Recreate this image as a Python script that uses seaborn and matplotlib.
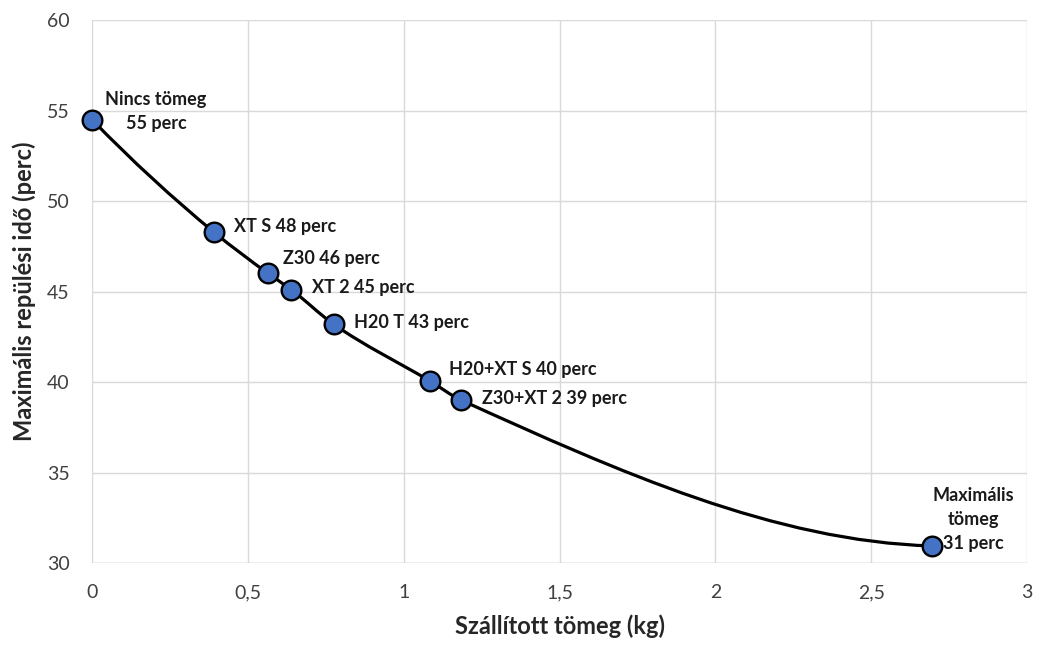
import numpy as np
import pandas as pd
import seaborn as sns
import matplotlib.pyplot as plt
from matplotlib.path import Path
from matplotlib.patches import PathPatch
from matplotlib.ticker import FuncFormatter

# Data
tomeg = [0.0, 0.39, 0.565, 0.64, 0.775, 1.085, 1.185, 2.695]
ido = [54.5, 48.3, 46.0, 45.1, 43.2, 40.05, 39.0, 30.95]
cimkek = ["Nincs tömeg\n55 perc", "XT S 48 perc", "Z30 46 perc", "XT 2 45 perc",
          "H20 T 43 perc", "H20+XT S 40 perc", "Z30+XT 2 39 perc",
          "Maximális\ntömeg\n31 perc"]

df = pd.DataFrame({"tomeg": tomeg, "ido": ido, "cimke": cimkek})

sns.set_theme(style="white")
plt.rcParams['font.family'] = ['Lato', 'DejaVu Sans']

fig = plt.figure(figsize=(10.4, 6.48), dpi=100)
ax = fig.add_axes([0.0885, 0.131, 0.899, 0.838])

# Smoothed line: monotone cubic (PCHIP) slopes, drawn as bezier segments
x = np.array(tomeg)
y = np.array(ido)
h = np.diff(x)
d = np.diff(y) / h
m = np.zeros_like(y)
for k in range(1, len(x) - 1):
    if d[k - 1] * d[k] > 0:
        w1 = 2 * h[k] + h[k - 1]
        w2 = h[k] + 2 * h[k - 1]
        m[k] = (w1 + w2) / (w1 / d[k - 1] + w2 / d[k])


def end_slope(h0, h1, d0, d1):
    s = ((2 * h0 + h1) * d0 - h0 * d1) / (h0 + h1)
    if np.sign(s) != np.sign(d0):
        s = 0.0
    elif np.sign(d0) != np.sign(d1) and abs(s) > abs(3 * d0):
        s = 3 * d0
    return s


m[0] = end_slope(h[0], h[1], d[0], d[1])
m[-1] = end_slope(h[-1], h[-2], d[-1], d[-2])

verts = [(x[0], y[0])]
codes = [Path.MOVETO]
for k in range(len(x) - 1):
    verts += [(x[k] + h[k] / 3, y[k] + m[k] * h[k] / 3),
              (x[k + 1] - h[k] / 3, y[k + 1] - m[k + 1] * h[k] / 3),
              (x[k + 1], y[k + 1])]
    codes += [Path.CURVE4] * 3
ax.add_patch(PathPatch(Path(verts, codes), facecolor="none", edgecolor="black", lw=2.3, zorder=2))

sns.scatterplot(data=df, x="tomeg", y="ido", ax=ax, s=200, color="#4472C4",
                edgecolor="black", linewidth=1.7, zorder=3, clip_on=False)

# label offsets in pixels (right, up)
offsets = [(64, 8), (20, 5), (15, 15), (21, 2), (20, 2), (19, 12), (21, 2), (41, 26)]
for (xx, yy, t), (dx, dy) in zip(zip(tomeg, ido, cimkek), offsets):
    multi = "\n" in t
    ax.annotate(t, (xx, yy), xytext=(dx, dy), textcoords="offset pixels",
                ha="center" if multi else "left", va="center",
                fontsize=13, fontweight="bold", color="#1a1a1a",
                linespacing=1.5, zorder=4)

ax.set_xlim(0, 3)
ax.set_ylim(30, 60)
ax.set_xticks(np.arange(0, 3.01, 0.5))
ax.set_yticks(np.arange(30, 61, 5))
ax.xaxis.set_major_formatter(FuncFormatter(lambda v, p: f"{v:g}".replace(".", ",")))
ax.grid(True, color="#d9d9d9", lw=1)
for s in ax.spines.values():
    s.set_visible(False)
ax.axhline(30, color="#bfbfbf", lw=1, zorder=1)
ax.tick_params(axis="x", length=0, labelsize=14, labelcolor="#404040", pad=15)
ax.tick_params(axis="y", length=0, labelsize=14, labelcolor="#404040", pad=16)

ax.set_xlabel("Szállított tömeg (kg)", fontsize=17, fontweight="bold", color="#262626", labelpad=10)
ax.set_ylabel("Maximális repülési idő (perc)", fontsize=17, fontweight="bold", color="#262626", labelpad=8)

fig.savefig("out.png", dpi=100)
